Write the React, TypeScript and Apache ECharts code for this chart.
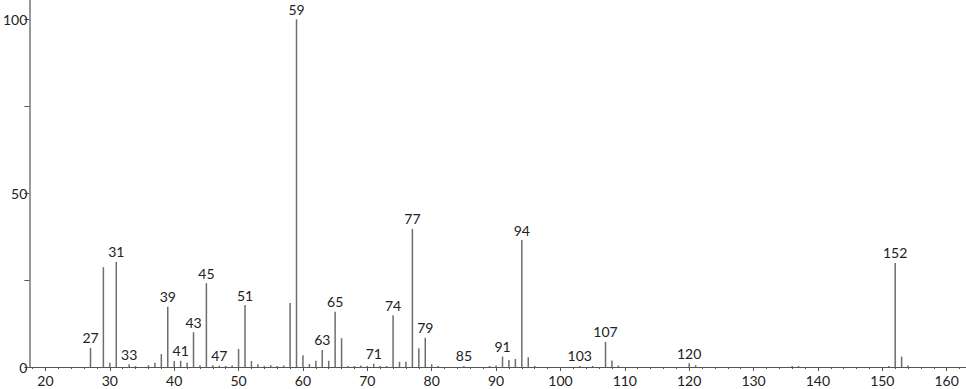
import React, { useEffect, useRef } from "react";
import * as echarts from "echarts";

const mzValues = [27, 29, 30, 31, 33, 34, 36, 37, 38, 39, 40, 41, 42, 43, 44, 45, 46, 47, 48, 49, 50, 51, 52, 53, 54, 55, 56, 57, 58, 59, 60, 61, 62, 63, 64, 65, 66, 67, 68, 69, 70, 71, 72, 73, 74, 75, 76, 77, 78, 79, 80, 81, 85, 89, 90, 91, 92, 93, 94, 95, 96, 103, 105, 107, 108, 109, 120, 121, 136, 137, 151, 152, 153, 154];
const intensities = [5.5, 28.7, 1.2, 30.2, 0.8, 0.3, 0.5, 1.2, 3.7, 17.3, 1.7, 1.8, 1.2, 10, 0.5, 24.1, 0.5, 0.4, 0.3, 0.4, 5.2, 17.8, 1.7, 0.8, 0.3, 0.5, 0.3, 0.4, 18.4, 100, 3.4, 0.9, 1.8, 4.9, 1.8, 15.9, 8.3, 0.3, 0.3, 0.4, 0.3, 0.9, 0.3, 0.3, 14.9, 1.5, 1.5, 39.7, 5.4, 8.4, 0.8, 0.3, 0.3, 0.3, 0.4, 3.0, 2.0, 2.3, 36.5, 2.8, 0.3, 0.3, 0.3, 7.2, 1.9, 0.4, 1.1, 0.5, 0.3, 0.3, 0.3, 29.9, 3.0, 0.4];
const labeledPeaks = [27, 31, 33, 39, 41, 43, 45, 47, 51, 59, 63, 65, 71, 74, 77, 79, 85, 91, 94, 103, 107, 120, 152];
const xMajorTicks = [20, 30, 40, 50, 60, 70, 80, 90, 100, 110, 120, 130, 140, 150, 160];
const xMinorTicks = [18, 22, 24, 26, 28, 32, 34, 36, 38, 42, 44, 46, 48, 52, 54, 56, 58, 62, 64, 66, 68, 72, 74, 76, 78, 82, 84, 86, 88, 92, 94, 96, 98, 102, 104, 106, 108, 112, 114, 116, 118, 122, 124, 126, 128, 132, 134, 136, 138, 142, 144, 146, 148, 152, 154, 156, 158, 162];
const yTicks = [0, 25, 50, 75, 100];
const yLabels = [0, 50, 100];

const FONT = "Lato, 'Open Sans', 'DejaVu Sans', sans-serif";

export default function App() {
  const ref = useRef<HTMLDivElement>(null);
  useEffect(() => {
    if (!ref.current) return;
    const chart = echarts.init(ref.current, null, { renderer: "svg" });
    const data = mzValues.map((mz, i) => ({
      value: [mz, intensities[i]],
      label: { show: labeledPeaks.includes(mz) },
    }));
    chart.setOption({
      animation: false,
      backgroundColor: "#fff",
      grid: { left: 29, right: 0, top: 0, bottom: 22, containLabel: false },
      xAxis: [
        {
          type: "value",
          min: 17.5,
          max: 163,
          position: "bottom",
          splitLine: { show: false },
          axisLine: { show: true, onZero: false, lineStyle: { color: "#555", width: 1 } },
          axisTick: { show: true, length: 4, customValues: xMajorTicks, lineStyle: { color: "#555" } },
          axisLabel: {
            show: true,
            customValues: xMajorTicks,
            margin: 6,
            fontSize: 14,
            fontFamily: FONT,
            color: "#222",
          },
        },
        {
          type: "value",
          min: 17.5,
          max: 163,
          position: "bottom",
          splitLine: { show: false },
          axisLine: { show: false },
          axisTick: { show: true, length: 2, customValues: xMinorTicks, lineStyle: { color: "#555" } },
          axisLabel: { show: false },
        },
      ],
      yAxis: {
        type: "value",
        min: 0,
        max: 105.5,
        splitLine: { show: false },
        axisLine: { show: true, lineStyle: { color: "#999", width: 2 } },
        axisTick: { show: true, length: 5, customValues: yTicks, lineStyle: { color: "#555" } },
        axisLabel: {
          show: true,
          customValues: yLabels,
          margin: 2,
          fontSize: 14,
          fontFamily: FONT,
          color: "#222",
        },
      },
      series: [
        {
          type: "bar",
          xAxisIndex: 0,
          barWidth: 1.5,
          data,
          itemStyle: { color: "#6e6e6e" },
          label: {
            position: "top",
            distance: 3,
            fontSize: 14,
            fontFamily: FONT,
            color: "#222",
            formatter: (p: any) => String(p.value[0]),
          },
        },
      ],
    });
    return () => chart.dispose();
  }, []);
  return <div ref={ref} style={{ width: 966, height: 389, position: "absolute", left: 0, top: 0 }} />;
}
